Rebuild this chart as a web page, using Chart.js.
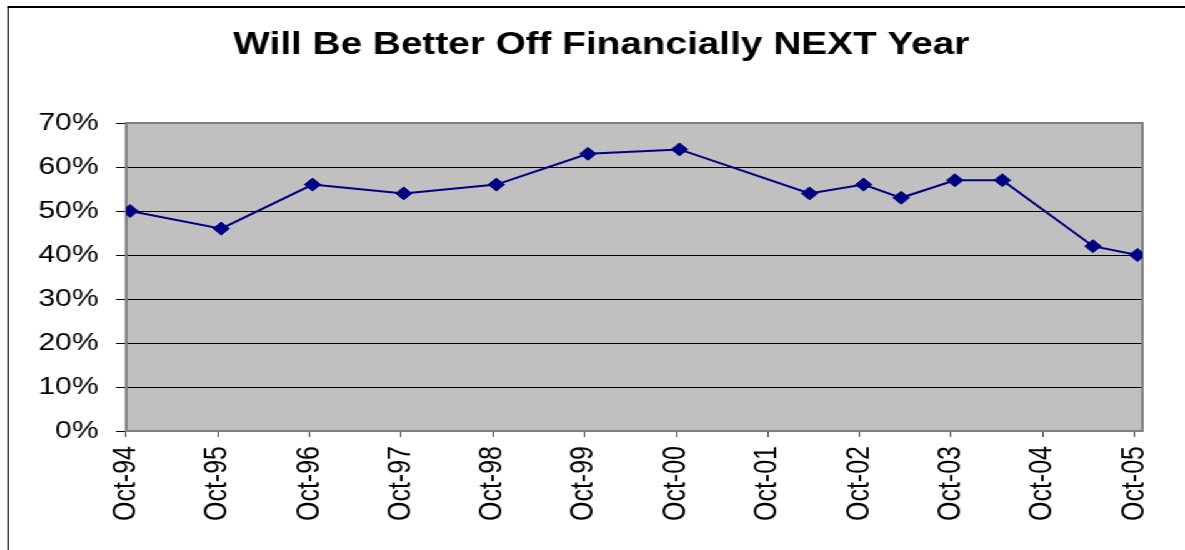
<!DOCTYPE html>
<html>
<head>
<meta charset="utf-8">
<script src="https://cdn.jsdelivr.net/npm/chart.js@4/dist/chart.umd.min.js"></script>
<style>
    html, body { margin: 0; padding: 0; background: #fff; overflow: hidden; }
    /* the original picture is stretched sideways, so draw narrow and widen */
    #wrap {
        position: absolute; left: 0; top: 0;
        width: 948px; height: 550px;
        transform: scaleX(1.25); transform-origin: 0 0;
    }
    #frame {
        position: absolute; left: 5.6px; top: 6px; width: 960px; height: 560px;
        border-top: 2px solid #000; border-left: 1.6px solid #000;
    }
    #chartBox { position: absolute; left: 0; top: 0; width: 948px; height: 550px; }
</style>
</head>
<body>
<div id="wrap">
    <div id="frame"></div>
    <div id="chartBox"><canvas id="chart"></canvas></div>
</div>
<script>
// DATA
const chartTitle = "Will Be Better Off Financially NEXT Year";
const surveyDates = [
    "1994-10-17", "1995-10-15", "1996-10-13", "1997-10-11", "1998-10-15",
    "1999-10-15", "2000-10-14", "2002-03-16", "2002-10-17", "2003-03-16",
    "2003-10-16", "2004-04-22", "2005-04-18", "2005-10-12"
];
const betterOffPct = [50, 46, 56, 54, 56, 63, 64, 54, 56, 53, 57, 57, 42, 40];

const tickDates = [
    "1994-10-01", "1995-10-01", "1996-10-01", "1997-10-01", "1998-10-01", "1999-10-01",
    "2000-10-01", "2001-10-01", "2002-10-01", "2003-10-01", "2004-10-01", "2005-10-01"
];
const tickLabels = [
    "Oct-94", "Oct-95", "Oct-96", "Oct-97", "Oct-98", "Oct-99",
    "Oct-00", "Oct-01", "Oct-02", "Oct-03", "Oct-04", "Oct-05"
];
const axisStart = "1994-10-01";
const axisEnd = "2005-11-01";

function dayNum(s) {
    const p = s.split("-").map(Number);
    return Date.UTC(p[0], p[1] - 1, p[2]) / 86400000;
}

const fontFamily = "'Liberation Sans', Arial, sans-serif";

// PLOT AREA (grey fill + border) and TITLE
const plotArea = {
    id: "plotArea",
    beforeDraw(chart) {
        const a = chart.chartArea, ctx = chart.ctx;
        ctx.save();
        ctx.fillStyle = "#c0c0c0";
        ctx.fillRect(a.left, a.top, a.right - a.left, a.bottom - a.top);
        ctx.restore();
    },
    beforeDatasetsDraw(chart) {
        const a = chart.chartArea, ctx = chart.ctx;
        ctx.save();
        ctx.strokeStyle = "#808080";
        ctx.lineWidth = 2;
        ctx.strokeRect(a.left, a.top, a.right - a.left, a.bottom - a.top);
        ctx.restore();
    },
    afterDraw(chart) {
        const ctx = chart.ctx;
        ctx.save();
        ctx.fillStyle = "#000";
        ctx.font = "bold 31px " + fontFamily;
        ctx.textAlign = "center";
        ctx.textBaseline = "middle";
        ctx.fillText(chartTitle, 481, 45);
        ctx.restore();
    }
};

new Chart(document.getElementById("chart"), {
    type: "line",
    data: {
        datasets: [{
            data: surveyDates.map((d, i) => ({ x: dayNum(d), y: betterOffPct[i] })),
            borderColor: "#000080",
            backgroundColor: "#000080",
            borderWidth: 2,
            pointStyle: "rectRot",
            pointRadius: 6.5,
            pointBorderWidth: 1,
            tension: 0
        }]
    },
    options: {
        responsive: true,
        maintainAspectRatio: false,
        animation: false,
        layout: { padding: { left: 0, right: 34, top: 123, bottom: 0 } },
        plugins: {
            legend: { display: false },
            tooltip: { enabled: false },
            title: { display: false }
        },
        scales: {
            x: {
                type: "linear",
                min: dayNum(axisStart),
                max: dayNum(axisEnd),
                afterBuildTicks(scale) {
                    scale.ticks = tickDates.map(d => ({ value: dayNum(d) }));
                },
                afterFit(scale) { scale.height = 119; },
                ticks: {
                    autoSkip: false,
                    minRotation: 90,
                    maxRotation: 90,
                    padding: 9,
                    color: "#000",
                    font: { family: fontFamily, size: 25 },
                    callback: (v, i) => tickLabels[i]
                },
                grid: { drawOnChartArea: false, tickLength: 6, color: "#404040" },
                border: { color: "#808080", width: 2 }
            },
            y: {
                min: 0,
                max: 70,
                afterFit(scale) { scale.width = 100.8; },
                ticks: {
                    stepSize: 10,
                    padding: 14,
                    color: "#000",
                    font: { family: fontFamily, size: 24 },
                    callback: v => v + "%"
                },
                grid: {
                    tickLength: 8,
                    color: "#000",
                    lineWidth: 1
                },
                border: { color: "#808080", width: 2 }
            }
        }
    },
    plugins: [plotArea]
});
</script>
</body>
</html>
